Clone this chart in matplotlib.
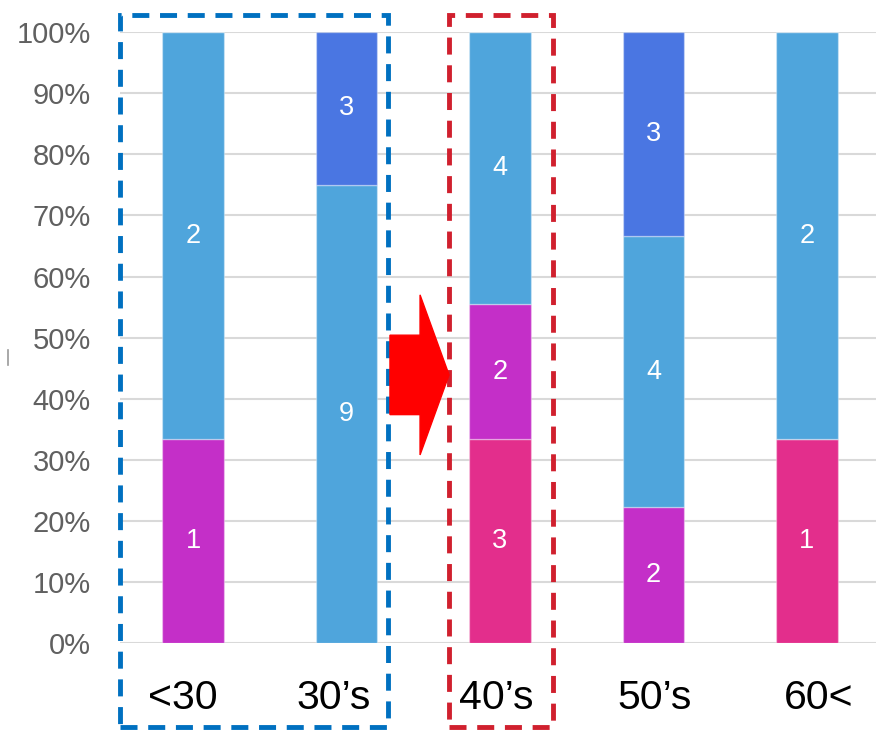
import numpy as np
import matplotlib.pyplot as plt
import matplotlib.transforms as mtransforms
from matplotlib.patches import Rectangle, Polygon
from matplotlib.lines import Line2D

plt.rcParams['font.family'] = ['Liberation Sans', 'DejaVu Sans']

categories = ['<30', '30\u2019s', '40\u2019s', '50\u2019s', '60<']
pink = [0, 0, 3, 0, 1]
magenta = [1, 0, 2, 2, 0]
light_blue = [2, 9, 4, 4, 2]
blue = [0, 3, 0, 3, 0]

series = [pink, magenta, light_blue, blue]
colors = ['#E32E8C', '#C42FC8', '#4FA5DC', '#4A76E2']

# horizontal nudges of the category labels (pixels), as in the original slide
label_shift = [-10, -13, -4, 1, 12]

counts = np.array(series, dtype=float)
totals = counts.sum(axis=0)
pct = counts / totals * 100

fig = plt.figure(figsize=(8.76, 7.30), dpi=100)
ax = fig.add_axes([0.137, 0.119, 0.863, 0.837])

x = np.arange(len(categories))
bottom = np.zeros(len(categories))
for vals, p, c in zip(series, pct, colors):
    ax.bar(x, p, width=0.4, bottom=bottom, color=c,
           edgecolor=(1, 1, 1, 0.35), linewidth=1, zorder=2)
    for i in range(len(categories)):
        if vals[i] > 0:
            ax.text(x[i], bottom[i] + p[i] / 2, str(vals[i]), ha='center',
                    va='center', color='white', fontsize=19.5, zorder=3)
    bottom += p

ax.set_xlim(-0.476, 4.45)
ax.set_ylim(0, 100)
ax.set_yticks(np.arange(0, 101, 10))
ax.set_yticklabels([f'{v}%' for v in range(0, 101, 10)])
ax.set_xticks(x)
ax.set_xticklabels(categories)
ax.tick_params(axis='y', length=0, pad=21, labelsize=21, labelcolor='#606060')
ax.tick_params(axis='x', length=0, pad=26, labelsize=29.5, labelcolor='black')
for lbl, dx in zip(ax.get_xticklabels(), label_shift):
    lbl.set_transform(lbl.get_transform() +
                      mtransforms.ScaledTranslation(dx / 100, 0, fig.dpi_scale_trans))
ax.grid(axis='y', color='#D9D9D9', linewidth=1.5, zorder=0)
for s in ax.spines.values():
    s.set_visible(False)

# dashed highlight boxes
trans = mtransforms.blended_transform_factory(ax.transData, ax.transAxes)
ax.add_patch(Rectangle((-0.476, -0.137), 1.746, 1.165, transform=trans,
                       fill=False, edgecolor='#0070C0', linewidth=3.5,
                       linestyle=(0, (3.5, 2.2)), clip_on=False, zorder=4))
ax.add_patch(Rectangle((1.668, -0.137), 0.677, 1.165, transform=trans,
                       fill=False, edgecolor='#D0202E', linewidth=3.5,
                       linestyle=(0, (3.5, 2.2)), clip_on=False, zorder=4))

# arrow between the boxes
arrow = [(1.283, 37.4), (1.479, 37.4), (1.479, 30.8), (1.668, 43.9),
         (1.479, 57.0), (1.479, 50.4), (1.283, 50.4)]
ax.add_patch(Polygon(arrow, closed=True, color='#FF0000', zorder=5,
                     clip_on=False))

# leftover mark of a cropped axis title
fig.add_artist(Line2D([0.0095, 0.0095], [0.50, 0.52], color='#9A9A9A',
                      linewidth=1.2, transform=fig.transFigure))

plt.savefig('out.png', dpi=100)
